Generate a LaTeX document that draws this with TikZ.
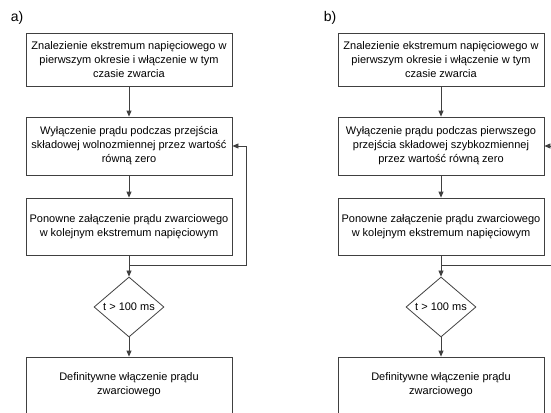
\documentclass[tikz,border=0pt]{standalone}
\usepackage{fontspec}
\setmainfont{Liberation Sans}
\usetikzlibrary{shapes.geometric,arrows.meta}
\begin{document}
\begin{tikzpicture}[x=1pt,y=-1pt,
  box/.style={draw=black!75,line width=0.8pt,fill=white,minimum width=206pt,align=center,font=\fontsize{11}{14}\selectfont},
  decision/.style={draw=black!75,line width=0.8pt,diamond,minimum width=70pt,minimum height=60pt,inner sep=0pt,font=\fontsize{11}{14}\selectfont},
  flow/.style={draw=black!75,line width=0.8pt,-{Triangle[length=6pt,width=5pt]}},
  link/.style={draw=black!75,line width=0.8pt}]
\useasboundingbox (0,0) rectangle (551,412);
\clip (0,0) rectangle (551,412);
% 図 a)
\node[font=\fontsize{14}{16}\selectfont] (labA) at (17,18) {a)};
\node[box,minimum height=53pt] (a1) at (129,59.5) {Znalezienie ekstremum napięciowego w\\pierwszym okresie i włączenie w tym\\czasie zwarcia};
\node[box,minimum height=58pt] (a2) at (129,146) {Wyłączenie prądu podczas przejścia\\składowej wolnozmiennej przez wartość\\równą zero};
\node[box,minimum height=57pt] (a3) at (129,226.5) {Ponowne załączenie prądu zwarciowego\\w kolejnym ekstremum napięciowym};
\node[decision] (a4) at (129,307) {t > 100 ms};
\node[box,minimum height=56pt] (a5) at (129,385) {Definitywne włączenie prądu\\zwarciowego};
\coordinate (ja) at (129,265);
% 矢印 a)
\draw[flow] (a1) -- (a2);
\draw[flow] (a2) -- (a3);
\draw[link] (a3) -- (ja);
\draw[flow] (ja) -- (a4);
\draw[flow] (ja) -- ++(117,0) |- (a2.east);
\draw[flow] (a4) -- (a5);
% 図 b)
\node[font=\fontsize{14}{16}\selectfont] (labB) at (330,18) {b)};
\node[box,minimum height=53pt] (b1) at (441,59.5) {Znalezienie ekstremum napięciowego w\\pierwszym okresie i włączenie w tym\\czasie zwarcia};
\node[box,minimum height=58pt] (b2) at (441,146) {Wyłączenie prądu podczas pierwszego\\przejścia składowej szybkozmiennej\\przez wartość równą zero};
\node[box,minimum height=57pt] (b3) at (441,226.5) {Ponowne załączenie prądu zwarciowego\\w kolejnym ekstremum napięciowym};
\node[decision] (b4) at (441,307) {t > 100 ms};
\node[box,minimum height=56pt] (b5) at (441,385) {Definitywne włączenie prądu\\zwarciowego};
\coordinate (jb) at (441,265);
% 矢印 b)
\draw[flow] (b1) -- (b2);
\draw[flow] (b2) -- (b3);
\draw[link] (b3) -- (jb);
\draw[flow] (jb) -- (b4);
\draw[flow] (jb) -- ++(117,0) |- (b2.east);
\draw[flow] (b4) -- (b5);
\end{tikzpicture}
\end{document}
